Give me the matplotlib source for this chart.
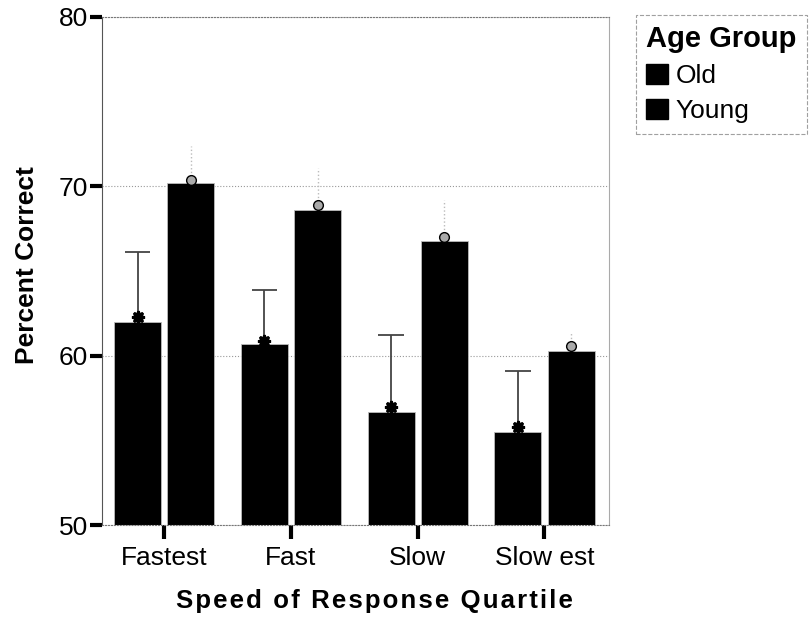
import numpy as np
from matplotlib import pyplot as plt
from matplotlib.patches import Patch

plt.rc('font', family=['Liberation Sans', 'DejaVu Sans'], size=19)

quartiles = ["Fastest", "Fast", "Slow", "Slow est"]
groups = ["Old", "Young"]
old_bar = [62.0, 60.7, 56.7, 55.5]
young_bar = [70.2, 68.6, 66.8, 60.3]
old_mean = [62.3, 60.9, 57.0, 55.8]
young_mean = [70.4, 68.9, 67.0, 60.6]
old_err_top = [66.1, 63.9, 61.2, 59.1]
young_err_top = [72.4, 71.1, 69.2, 61.4]

fig = plt.figure(figsize=(8.1, 6.2), dpi=100)
ax = fig.add_axes([0.126, 0.153, 0.626, 0.8196])

x = np.arange(len(quartiles))
w = 0.37
off = 0.21
ax.bar(x - off, np.array(old_bar) - 50, w, bottom=50, color='black',
       edgecolor='#bbbbbb', linewidth=0.6, zorder=2)
ax.bar(x + off, np.array(young_bar) - 50, w, bottom=50, color='black',
       edgecolor='#bbbbbb', linewidth=0.6, zorder=2)

# upper error bars only
ax.vlines(x - off, old_mean, old_err_top, color='#444444', linewidth=1.3, zorder=3)
ax.hlines(old_err_top, x - off - 0.1, x - off + 0.1, color='#444444', linewidth=1.3, zorder=3)
ax.vlines(x + off, young_mean, young_err_top, color='#bbbbbb', linewidth=1.0,
          linestyle=':', zorder=3)

ax.plot(x - off, old_mean, linestyle='none', marker=(8, 1, 0), markersize=9,
        color='black', markeredgewidth=1.8, zorder=4)
ax.plot(x + off, young_mean, linestyle='none', marker='o', markersize=7,
        markerfacecolor='#aaaaaa', markeredgecolor='black', markeredgewidth=1, zorder=4)

ax.set_xlim(-0.49, 3.51)
ax.set_ylim(50, 80)
ax.set_yticks([50, 60, 70, 80])
ax.set_xticks(x)
ax.set_xticklabels(quartiles, fontsize=19)
ax.tick_params(axis='y', length=9, width=3, labelsize=19, pad=1)
ax.tick_params(axis='x', length=10, width=3, labelsize=19, pad=5)

ax.grid(axis='y', linestyle=':', color='#999999', linewidth=0.8, zorder=0)
ax.spines['left'].set_color('#555555')
ax.spines['right'].set_color('#aaaaaa')
ax.spines['top'].set_linestyle(':')
ax.spines['top'].set_color('#777777')
ax.spines['bottom'].set_linestyle(':')
ax.spines['bottom'].set_color('#777777')

xlabel = "\u200a".join("Speed of Response Quartile")
ax.set_xlabel(xlabel, fontsize=18.5, fontweight='bold')
ax.xaxis.set_label_coords(0.537, -0.125)
ax.set_ylabel("Percent Correct", fontsize=19, fontweight='bold')
ax.yaxis.set_label_coords(-0.124, 0.512)

handles = [Patch(facecolor='black', edgecolor='black') for g in groups]
leg = fig.legend(handles, groups, title="Age Group", loc='upper left',
                 bbox_to_anchor=(0.785, 0.976), frameon=True, fontsize=19,
                 title_fontproperties={'weight': 'bold', 'size': 21},
                 handlelength=0.8, handleheight=0.8, handletextpad=0.3,
                 borderpad=0.4, labelspacing=0.4, borderaxespad=0,
                 fancybox=False, alignment='left')
leg.get_frame().set_edgecolor('#888888')
leg.get_frame().set_linestyle('--')
leg.get_frame().set_linewidth(0.8)

plt.savefig('out.png', dpi=100)
